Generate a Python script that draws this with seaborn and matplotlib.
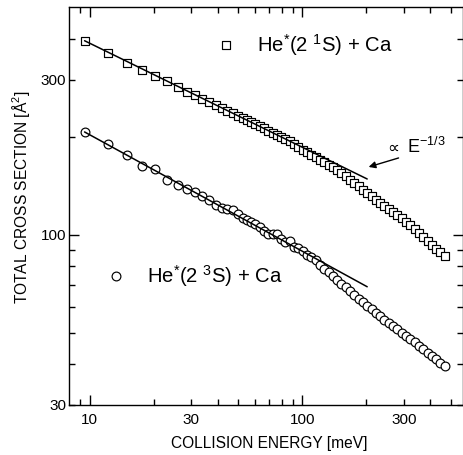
import numpy as np
import pandas as pd
import matplotlib
matplotlib.use("Agg")
import matplotlib.pyplot as plt
import seaborn as sns
from matplotlib.ticker import FixedLocator, FuncFormatter

# ---------------- data ----------------
energy = [9.5, 12.2, 15.0, 17.7, 20.4, 23.2, 26.0, 28.8, 31.4, 33.7,
          36.4, 39.1, 41.8, 44.5, 47.2, 50.0, 52.4, 54.9, 57.5, 60.2,
          63.1, 66.1, 69.3, 72.6, 76.0, 79.6, 83.4, 87.4, 91.6, 95.9,
          100.5, 105.3, 110.3, 115.6, 121.1, 126.9, 132.9, 139.2, 145.9, 152.8,
          160.1, 167.8, 175.8, 184.1, 192.9, 202.1, 211.8, 221.9, 232.4, 243.5,
          255.1, 267.3, 280.1, 293.4, 307.4, 322.1, 337.4, 353.5, 370.4, 388.1,
          406.6, 426.0, 446.3, 467.6]

sigma_singlet = [396, 362, 339, 322, 308, 298, 286, 276, 269, 262,
                 257, 252, 246, 241.5, 237, 232.6, 229.2, 225.8, 222.4, 219.1,
                 215.9, 212.7, 209.5, 206.4, 203.4, 200.4, 197.4, 194.5, 191, 187,
                 183, 179.8, 176.7, 173.6, 170.5, 167.5, 164.6, 161.7, 158.8, 155.5,
                 151.8, 148.1, 144.6, 141.1, 137.7, 134.4, 131.4, 128.5, 125.7, 122.9,
                 120.2, 117.6, 115.0, 112.5, 110.0, 107.0, 104.1, 101.3, 98.6, 95.9,
                 93.3, 90.8, 88.4, 86.0]

sigma_triplet = [207, 190, 176, 163, 160, 148, 143, 139, 136, 132,
                 128, 124, 121, 120, 119, 116, 113, 111, 110, 108,
                 105.5, 103, 101, 100.5, 101, 97, 95, 96, 92, 91,
                 89, 87, 85.5, 83.5, 81, 78.8, 76.7, 74.7, 72.8, 70.9,
                 69.0, 67.2, 65.4, 63.7, 62.0, 60.4, 59.0, 57.6, 56.2, 54.9,
                 53.6, 52.4, 51.3, 50.1, 49.0, 47.8, 46.7, 45.6, 44.5, 43.4,
                 42.4, 41.4, 40.4, 39.4]

# E^(-1/3) guide lines (end points)
fit_energy = [9.47, 202.0]
fit_singlet = [396.0, 148.7]
fit_triplet = [207.5, 69.3]

x_major = [10, 100]
x_minor = [9, 20, 30, 40, 50, 60, 70, 80, 90, 200, 300, 400, 500]
x_labels = [10, 30, 100, 300]
y_major = [100]
y_minor = [30, 40, 50, 60, 70, 80, 90, 200, 300, 400]
y_labels = [30, 100, 300]

label_singlet = "He$^{*}$(2 $^{1}$S) + Ca"
label_triplet = "He$^{*}$(2 $^{3}$S) + Ca"

# ---------------- style ----------------
sns.set_theme(style="ticks")
plt.rcParams["font.family"] = ["Liberation Sans", "DejaVu Sans"]
plt.rcParams["mathtext.fontset"] = "custom"
plt.rcParams["mathtext.rm"] = "Liberation Sans"
plt.rcParams["mathtext.it"] = "Liberation Sans:italic"
plt.rcParams["mathtext.default"] = "regular"

df_s = pd.DataFrame({"E": energy, "sigma": sigma_singlet})
df_t = pd.DataFrame({"E": energy, "sigma": sigma_triplet})

fig = plt.figure(figsize=(4.63, 4.55), dpi=100)
ax = fig.add_axes([0.149, 0.110, 0.851, 0.8747])

sns.scatterplot(data=df_s, x="E", y="sigma", marker="s", s=34,
                facecolor="white", edgecolor="black", linewidth=0.85,
                ax=ax, zorder=2)
sns.scatterplot(data=df_t, x="E", y="sigma", marker="o", s=40,
                facecolor="white", edgecolor="black", linewidth=0.85,
                ax=ax, zorder=2)
sns.lineplot(x=fit_energy, y=fit_singlet, color="black", linewidth=1.1,
             ax=ax, zorder=3)
sns.lineplot(x=fit_energy, y=fit_triplet, color="black", linewidth=1.1,
             ax=ax, zorder=3)

ax.set_xscale("log")
ax.set_yscale("log")
ax.set_xlim(8.0, 570)
ax.set_ylim(30, 503)

ax.xaxis.set_major_locator(FixedLocator(x_major))
ax.xaxis.set_minor_locator(FixedLocator(x_minor))
ax.yaxis.set_major_locator(FixedLocator(y_major))
ax.yaxis.set_minor_locator(FixedLocator(y_minor))

fmt_x = FuncFormatter(lambda v, p: f"{v:g}" if round(v) in x_labels else "")
fmt_y = FuncFormatter(lambda v, p: f"{v:g}" if round(v) in y_labels else "")
ax.xaxis.set_major_formatter(fmt_x)
ax.xaxis.set_minor_formatter(fmt_x)
ax.yaxis.set_major_formatter(fmt_y)
ax.yaxis.set_minor_formatter(fmt_y)

ax.tick_params(which="both", direction="in", top=True, right=True,
               width=1.0, color="black", labelsize=11, labelcolor="black")
ax.tick_params(which="major", length=7)
ax.tick_params(which="minor", length=4)
ax.tick_params(axis="x", which="both", pad=6.0)
ax.tick_params(axis="y", which="both", pad=2.0)

for sp in ax.spines.values():
    sp.set_visible(True)
    sp.set_linewidth(1.0)
    sp.set_color("black")

ax.set_xlabel("COLLISION ENERGY [meV]", fontsize=11.2, color="black")
ax.set_ylabel("TOTAL CROSS SECTION [Å$^{2}$]", fontsize=11.2, color="black")
ax.xaxis.set_label_coords(0.507, -0.078)
ax.yaxis.set_label_coords(-0.094, 0.5226)

# legend-like annotations
ax.scatter([0.398], [0.9045], transform=ax.transAxes, marker="s", s=36,
           facecolor="white", edgecolor="black", linewidth=0.85, clip_on=False)
ax.text(0.4766, 0.9045, label_singlet, transform=ax.transAxes,
        fontsize=14.6, ha="left", va="center", color="black")
ax.scatter([0.119], [0.324], transform=ax.transAxes, marker="o", s=40,
           facecolor="white", edgecolor="black", linewidth=0.85, clip_on=False)
ax.text(0.198, 0.324, label_triplet, transform=ax.transAxes,
        fontsize=14.6, ha="left", va="center", color="black")

ax.text(0.822, 0.646, "∝", transform=ax.transAxes, fontsize=12,
        ha="center", va="center", color="black",
        family=["DejaVu Sans"])
ax.text(0.857, 0.648, "E$^{-1/3}$", transform=ax.transAxes, fontsize=13,
        ha="left", va="center", color="black")
ax.annotate("", xy=(0.7605, 0.598), xytext=(0.8365, 0.6206),
            xycoords="axes fraction", textcoords="axes fraction",
            arrowprops=dict(arrowstyle="-|>", color="black", lw=1.0,
                            mutation_scale=10, shrinkA=0, shrinkB=0))

fig.savefig("out.png", dpi=100)
